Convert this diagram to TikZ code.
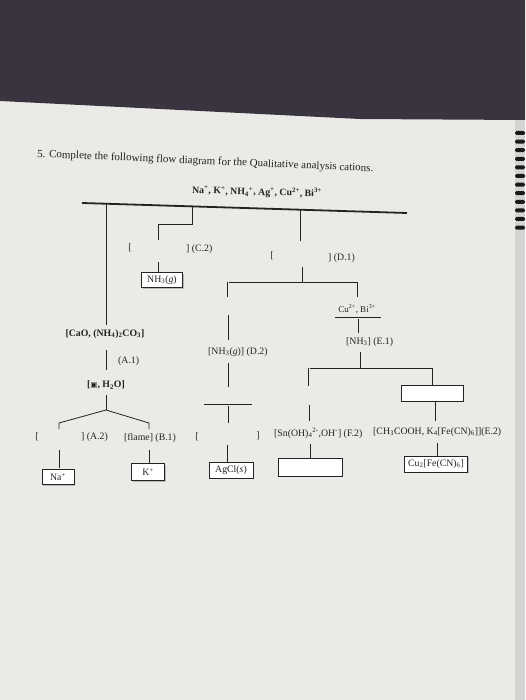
\documentclass[tikz,border=0pt]{standalone}
\usepackage{fontspec}
\setmainfont{Liberation Serif}
\newfontfamily\symfont{DejaVu Sans}
\usetikzlibrary{shadows}
\definecolor{paper}{RGB}{234,234,231}
\definecolor{cloth}{RGB}{58,52,64}
\definecolor{inkc}{RGB}{35,35,35}
\newcommand\dn[1]{\textsubscript{#1}}
\newcommand\up[1]{\textsuperscript{#1}}
\begin{document}
\begin{tikzpicture}[x=1pt,y=-1pt,
  ink/.style={draw=inkc, line width=0.8pt},
  dbl/.style={draw=inkc, double=paper, double distance=0.8pt, line width=0.6pt},
  lbl/.style={inner sep=0pt, text=inkc, font=\fontsize{9.8}{11}\selectfont},
  blbl/.style={lbl, font=\fontsize{9.8}{11}\selectfont\bfseries},
  ansbox/.style={draw=inkc, line width=0.8pt, fill=white, inner sep=0pt, text=inkc,
    font=\fontsize{9.8}{11}\selectfont,
    drop shadow={shadow xshift=1.2pt, shadow yshift=-1.2pt, opacity=0.45}},
  bind/.style={fill=black!90, rounded corners=1.5pt}]
% background
\useasboundingbox (0,0) rectangle (525,700);
\fill[paper] (0,0) rectangle (525,700);
\fill[cloth] (0,0) -- (525,0) -- (525,120) -- (360,119) -- (0,101) -- cycle;
\fill[black!25,opacity=0.5] (515,120) rectangle (525,700);
\foreach \k in {0,...,11} {\fill[bind] (515,{131+8.6*\k}) rectangle (525,{135+8.6*\k});}

% title
\node[anchor=base west, inner sep=0pt, rotate=-2.5, text=inkc, font=\fontsize{11}{13}\selectfont] (title) at (37,157)
  {5. Complete the following flow diagram for the Qualitative analysis cations.};
\node[inner sep=0pt, text=inkc, font=\fontsize{9.8}{11}\selectfont\bfseries, rotate=-1.5] (ions) at (257,192)
  {Na\up{+}, K\up{+}, NH\dn{4}\up{+}, Ag\up{+}, Cu\up{2+}, Bi\up{3+}};

% top bar
\coordinate (tL) at (82,203);
\coordinate (tR) at (407,213);
\draw[draw=inkc, line width=1.8pt] (tL) -- (tR);
\coordinate (t1) at (106,203.7);
\coordinate (t2) at (192,206.4);
\coordinate (t3) at (300,209.7);

% C branch
\node[lbl] (c2open) at (130,248) {[};
\node[lbl, anchor=west] (c2) at (186,249) {] (C.2)};
\draw[ink] (t2) -- (192,224) -- (158,224) -- (158,240);
\draw[ink] (158,262) -- (158,272);
\node[ansbox, minimum width=41pt, minimum height=15pt] (nh3box) at (162,280) {NH\dn{3}(\textit{g})};

% D branch
\node[lbl] (d1open) at (272,256) {[};
\node[lbl, anchor=west] (d1) at (328,258) {] (D.1)};
\draw[ink] (t3) -- (300,241);
\draw[ink] (302,267) -- (302,282);
\draw[ink] (228,282) -- (357,282);
\draw[dbl] (228,282) -- (228,297);
\draw[ink] (357,282) -- (357,297);

% Cu/Bi branch (E)
\node[lbl, font=\fontsize{9}{10}\selectfont] (cubi) at (357,309) {Cu\up{2+}, Bi\up{3+}};
\draw[dbl] (335,318) -- (381,318);
\draw[ink] (358,319) -- (358,333);
\node[lbl, anchor=west] (e1) at (346,342) {[NH\dn{3}] (E.1)};
\draw[ink] (360,352) -- (360,368);
\draw[ink] (308,368) -- (432,368);
\draw[dbl] (309,368) -- (309,386);
\draw[ink] (432,368) -- (432,385);
\node[ansbox, minimum width=62pt, minimum height=16pt] (ebox) at (432,393) {};
\draw[ink] (435,401) -- (435,421);
\draw[ink] (309,405) -- (309,421);
\node[lbl, anchor=west] (f2) at (274,433) {[Sn(OH)\dn{4}\up{2-},OH\up{-}] (F.2)};
\node[lbl, anchor=west] (e2) at (373,432) {[CH\dn{3}COOH, K\dn{4}[Fe(CN)\dn{6}]](E.2)};
\draw[dbl] (311,444) -- (311,458);
\draw[dbl] (438,443) -- (438,456);
\node[ansbox, minimum width=64pt, minimum height=18pt] (fbox) at (310,467) {};
\node[ansbox, minimum width=63pt, minimum height=16pt] (cufe) at (436,464) {Cu\dn{2}[Fe(CN)\dn{6}]};

% D.2 / Ag branch
\draw[ink] (228,315) -- (228,340);
\node[lbl, anchor=west] (d2) at (208,352) {[NH\dn{3}(\textit{g})] (D.2)};
\draw[ink] (228,363) -- (228,387);
\draw[dbl] (204,405) -- (252,405);
\draw[ink] (228,406) -- (228,423);
\node[lbl] (agopen) at (197,437) {[};
\node[lbl] (agclose) at (258,436) {]};
\draw[dbl] (228,445) -- (228,462);
\node[ansbox, minimum width=44pt, minimum height=16pt] (agcl) at (231,470) {AgCl(\textit{s})};

% A / B branch
\draw[ink] (t1) -- (106,325);
\node[blbl] (cao) at (105,334) {[CaO, (NH\dn{4})\dn{2}CO\dn{3}]};
\draw[ink] (106,350) -- (106,370);
\node[lbl, anchor=west] (a1) at (118,361) {(A.1)};
\node[blbl] (h2o) at (106,385) {[{\symfont\fontsize{7.5}{8}\selectfont ▣}, H\dn{2}O]};
\draw[ink] (106,395) -- (106,410);
\draw[ink] (59,429) -- (59,423) -- (106,410) -- (149,423) -- (149,429);
\node[lbl] (a2open) at (37,437) {[};
\node[lbl, anchor=west] (a2) at (81,437) {] (A.2)};
\node[lbl, anchor=west] (b1) at (124,438) {[flame] (B.1)};
\draw[ink] (59,450) -- (59,468);
\draw[ink] (149,450) -- (149,463);
\node[ansbox, minimum width=32pt, minimum height=15pt] (na) at (58,477) {Na\up{+}};
\node[ansbox, minimum width=33pt, minimum height=17pt] (k) at (148,472) {K\up{+}};
\end{tikzpicture}
\end{document}
